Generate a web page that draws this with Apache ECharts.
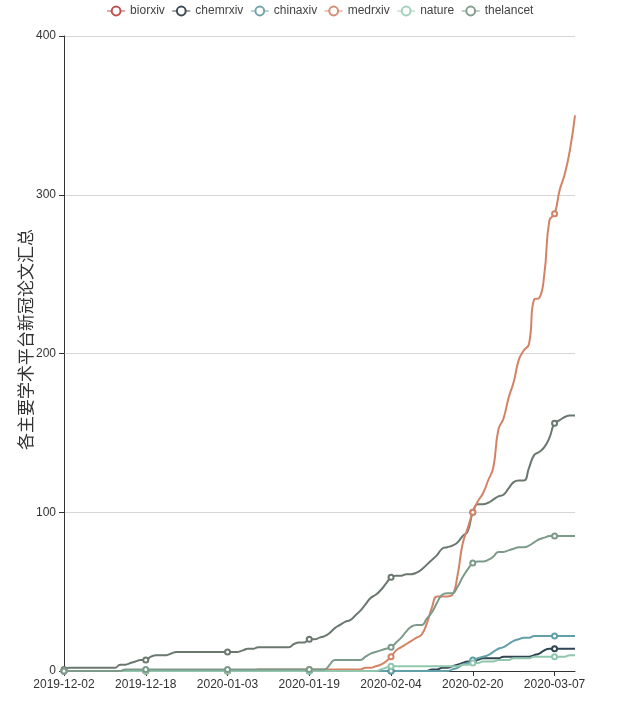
<!DOCTYPE html>
<html><head><meta charset="utf-8">
<script src="https://cdn.jsdelivr.net/npm/echarts@6/dist/echarts.min.js"></script>
<style>html,body{margin:0;padding:0;background:#fff}#c{width:640px;height:723px}</style>
</head><body><div id="c"></div>
<script>
// categories: daily dates 2019-12-02 .. 2020-03-11
const startDate = '2019-12-02';
const dayCount = 101;
const dates = [];
(function(){
  const d0 = new Date(startDate + 'T00:00:00Z');
  for (let i = 0; i < dayCount; i++) {
    const d = new Date(d0.getTime() + i * 86400000);
    dates.push(d.toISOString().slice(0, 10));
  }
})();

const seriesNames = ['biorxiv', 'chemrxiv', 'chinaxiv', 'medrxiv', 'nature', 'thelancet'];
const yTicks = [0, 100, 200, 300, 400];
const yAxisTitle = '各主要学术平台新冠论文汇总';

const biorxiv = [
  1,2,2,2,2,2,2,2,2,2,
  2,4,4,5,6,7,7,9,10,10,
  10,11,12,12,12,12,12,12,12,12,
  12,12,12,12,12,13,14,14,15,15,
  15,15,15,15,15,17,18,18,20,20,
  21,22,24,27,29,31,32,35,38,42,
  46,48,51,55,59,60,60,61,61,62,
  64,67,70,73,77,78,79,81,85,88,
  100,105,105,106,108,110,111,115,119,120,
  120,128,136,138,141,147,156,158,160,161,
  161
];
const chemrxiv = [
  0,0,0,0,0,0,0,0,0,0,
  0,0,0,0,0,0,0,0,0,0,
  0,0,0,0,0,0,0,0,0,0,
  0,0,0,0,0,0,0,0,0,0,
  0,0,0,0,0,0,0,0,0,0,
  0,0,0,0,0,0,0,0,0,0,
  0,0,0,0,0,0,0,0,0,0,
  0,0,1,1,2,2,3,4,5,6,
  6,7,8,8,8,8,9,9,9,9,
  9,9,10,11,13,14,14,14,14,14,
  14
];
const chinaxiv = [
  0,0,0,0,0,0,0,0,0,0,
  0,0,0,0,0,0,0,0,0,0,
  0,0,0,0,0,0,0,0,0,0,
  0,0,0,0,0,0,0,0,0,0,
  0,0,0,0,0,0,0,0,0,0,
  0,0,0,0,0,0,0,0,0,0,
  0,0,0,0,0,0,0,0,0,0,
  0,0,0,0,0,0,1,2,4,5,
  7,8,9,10,12,14,15,17,19,20,
  21,21,22,22,22,22,22,22,22,22,
  22
];
const medrxiv = [
  0,0,0,0,0,0,0,0,0,0,
  0,0,0,0,0,0,0,0,0,0,
  0,0,0,0,0,0,0,0,0,0,
  0,0,0,0,0,0,0,0,1,1,
  1,1,1,1,1,1,1,1,1,1,
  1,1,1,1,1,1,1,1,1,2,
  2,3,4,6,9,13,15,17,19,21,
  23,30,40,47,47,47,48,60,80,90,
  100,107,112,120,128,152,159,172,182,196,
  202,206,234,235,250,284,288,303,313,328,
  350
];
const nature = [
  0,0,0,0,0,0,0,0,0,0,
  0,0,0,0,0,0,0,0,0,0,
  0,0,0,0,0,0,0,0,0,0,
  0,0,0,0,0,0,0,0,0,0,
  0,0,0,0,0,0,0,0,0,0,
  0,0,0,0,0,0,0,0,0,0,
  0,0,1,2,3,3,3,3,3,3,
  3,3,3,3,3,3,3,3,4,4,
  5,5,6,6,6,7,7,7,8,8,
  8,8,9,9,9,9,9,9,9,10,
  10
];
const thelancet = [
  0,0,0,0,0,0,0,0,0,0,
  0,0,1,1,1,1,1,1,1,1,
  1,1,1,1,1,1,1,1,1,1,
  1,1,1,1,1,1,1,1,1,1,
  1,1,1,1,1,1,1,1,1,1,
  1,1,4,7,7,7,7,7,7,9,
  11,12,13,14,15,18,21,25,28,29,
  29,33,37,43,48,49,49,53,59,64,
  68,69,69,70,72,75,75,76,77,78,
  78,79,81,83,84,85,85,85,85,85,
  85
];
const seriesData = [biorxiv, chemrxiv, chinaxiv, medrxiv, nature, thelancet];
const legendColors = ['#c0504d', '#3b4a55', '#74a4aa', '#d88e72', '#a5cfbd', '#819f8c'];
const lineColors = ['#6b786f', '#2f4554', '#61a0a8', '#d48265', '#91c7ae', '#7c9a89'];

const FONT = 'Liberation Sans, Arial, sans-serif';
const chart = echarts.init(document.getElementById('c'));
chart.setOption({
  animation: false,
  color: legendColors,
  textStyle: { fontFamily: FONT },
  legend: {
    top: 0,
    left: 'center',
    itemWidth: 18,
    itemHeight: 11,
    itemGap: 7,
    textStyle: { fontSize: 12, color: '#444', fontFamily: FONT },
    data: seriesNames.map((n, i) => ({
      name: n,
      itemStyle: { color: legendColors[i], borderWidth: 1 },
      lineStyle: { color: legendColors[i], width: 1 }
    }))
  },
  grid: { left: 64, right: 65, top: 36, bottom: 52 },
  xAxis: {
    type: 'category',
    data: dates,
    boundaryGap: false,
    axisLine: { lineStyle: { color: '#333', width: 1 } },
    axisTick: { show: true, interval: 15, lineStyle: { color: '#333' } },
    axisLabel: { interval: 15, color: '#333', fontSize: 12, fontFamily: FONT, margin: 8 },
    splitLine: { show: false }
  },
  yAxis: {
    type: 'value',
    min: 0, max: 400, interval: 100,
    name: yAxisTitle,
    nameLocation: 'middle',
    nameGap: 30,
    nameMoveOverlap: false,
    nameTextStyle: { fontSize: 17, color: '#333', fontFamily: 'Noto Sans CJK SC', padding: [0, 0, 0, 28] },
    axisLine: { show: true, lineStyle: { color: '#333', width: 1 } },
    axisTick: { show: true, lineStyle: { color: '#333' } },
    axisLabel: { color: '#333', fontSize: 12, fontFamily: FONT,
      formatter: v => yTicks.includes(v) ? String(v) : '' },
    splitLine: { show: true, lineStyle: { color: '#d6d6d6', width: 1 } }
  },
  series: seriesNames.map((n, i) => ({
    name: n,
    type: 'line',
    smooth: true,
    symbol: 'emptyCircle',
    symbolSize: 5,
    data: seriesData[i],
    itemStyle: { color: lineColors[i] },
    lineStyle: { color: lineColors[i], width: 2 }
  }))
});
</script>
</body></html>
